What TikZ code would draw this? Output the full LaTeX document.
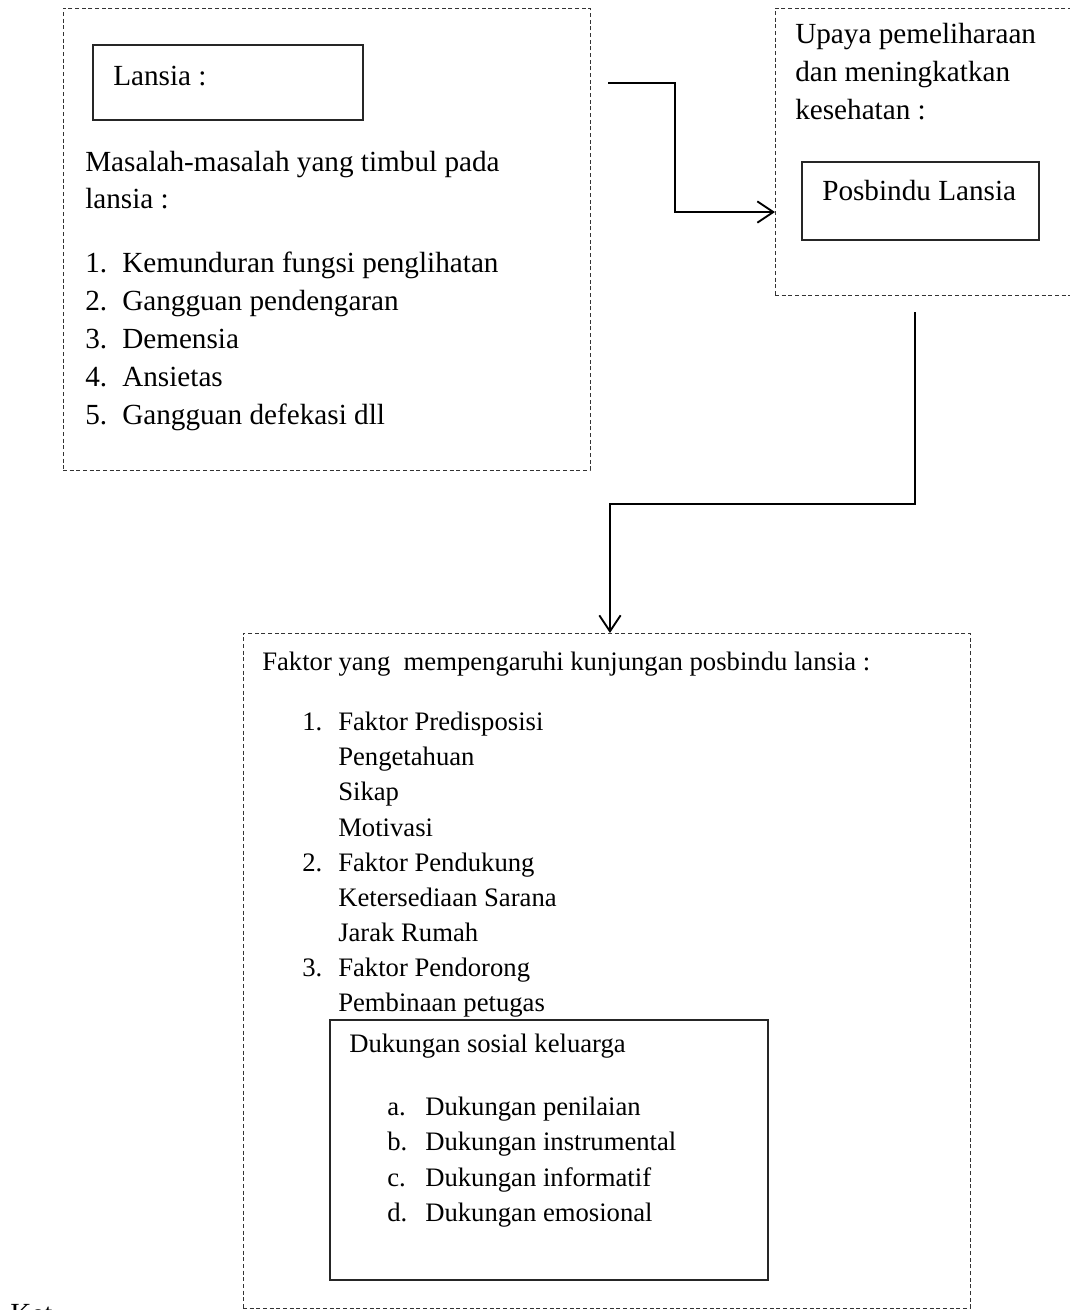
\documentclass[tikz,border=0pt]{standalone}
\usepackage{fontspec}
\setmainfont{Liberation Serif}
\usetikzlibrary{arrows.meta,calc}
\tikzstyle{dashbox}=[rectangle,
	draw=black!80,
	line width=0.6pt,
	dash pattern=on 3pt off 2pt,
	inner sep=0pt,
	outer sep=0pt]
\tikzstyle{solidbox}=[rectangle,
	draw=black!85,
	line width=0.8pt,
	inner sep=0pt,
	outer sep=0pt]
\tikzstyle{bigtxt}=[anchor=base west,
	inner sep=0pt,
	font=\fontsize{21.9}{26}\selectfont]
\tikzstyle{smalltxt}=[anchor=base west,
	inner sep=0pt,
	font=\fontsize{20}{24}\selectfont]
\tikzstyle{flow}=[line width=1.4pt,
	-{Straight Barb[length=12pt,width=16pt,line width=1.4pt]}]

\begin{document}
\begin{tikzpicture}[x=0.75pt,y=-0.75pt]
					\useasboundingbox (0,0) rectangle (1070,1310);
					% left box: lansia
					\node (lansiabox) [dashbox, minimum width=395.25pt, minimum height=346.5pt] at (326.5,239) {};
					\node (lansiahead) [solidbox, minimum width=202.5pt, minimum height=56.25pt] at (228,82.5) {};
					\node (lansiatxt) [bigtxt] at (113,85) {Lansia :};
					\node (masalah1) [bigtxt] at (85,171) {Masalah-masalah yang timbul pada};
					\node (masalah2) [bigtxt] at (85,208) {lansia :};
					\node (m1) [bigtxt] at (85,272) {1.};
					\node (m1txt) [bigtxt] at (122,272) {Kemunduran fungsi penglihatan};
					\node (m2) [bigtxt] at (85,310) {2.};
					\node (m2txt) [bigtxt] at (122,310) {Gangguan pendengaran};
					\node (m3) [bigtxt] at (85,348) {3.};
					\node (m3txt) [bigtxt] at (122,348) {Demensia};
					\node (m4) [bigtxt] at (85,386) {4.};
					\node (m4txt) [bigtxt] at (122,386) {Ansietas};
					\node (m5) [bigtxt] at (85,424) {5.};
					\node (m5txt) [bigtxt] at (122,424) {Gangguan defekasi dll};

					% right box: upaya
					\node (upayabox) [dashbox, minimum width=228.75pt, minimum height=215.25pt] at (927.5,151.5) {};
					\node (upaya1) [bigtxt] at (795,43) {Upaya pemeliharaan};
					\node (upaya2) [bigtxt] at (795,81) {dan meningkatkan};
					\node (upaya3) [bigtxt] at (795,119) {kesehatan :};
					\node (posbindu) [solidbox, minimum width=177.75pt, minimum height=58.5pt] at (920.5,201) {};
					\node (posbindutxt) [bigtxt] at (822,200) {Posbindu Lansia};

					% bottom box: faktor
					\node (faktorbox) [dashbox, minimum width=545.25pt, minimum height=506.25pt] at (606.5,970.5) {};
					\node (faktorhead) [smalltxt] at (262,670) {Faktor yang \ mempengaruhi kunjungan posbindu lansia :};
					\node (f1) [smalltxt] at (302,730) {1.};
					\node (f1txt) [smalltxt] at (338,730) {Faktor Predisposisi};
					\node (f1a) [smalltxt] at (338,765) {Pengetahuan};
					\node (f1b) [smalltxt] at (338,800) {Sikap};
					\node (f1c) [smalltxt] at (338,836) {Motivasi};
					\node (f2) [smalltxt] at (302,871) {2.};
					\node (f2txt) [smalltxt] at (338,871) {Faktor Pendukung};
					\node (f2a) [smalltxt] at (338,906) {Ketersediaan Sarana};
					\node (f2b) [smalltxt] at (338,941) {Jarak Rumah};
					\node (f3) [smalltxt] at (302,976) {3.};
					\node (f3txt) [smalltxt] at (338,976) {Faktor Pendorong};
					\node (f3a) [smalltxt] at (338,1011) {Pembinaan petugas};
					\node (dukungan) [solidbox, minimum width=328.5pt, minimum height=195pt] at (549,1150) {};
					\node (dukhead) [smalltxt] at (349,1052) {Dukungan sosial keluarga};
					\node (da) [smalltxt] at (387,1115) {a.};
					\node (datxt) [smalltxt] at (425,1115) {Dukungan penilaian};
					\node (db) [smalltxt] at (387,1150) {b.};
					\node (dbtxt) [smalltxt] at (425,1150) {Dukungan instrumental};
					\node (dc) [smalltxt] at (387,1186) {c.};
					\node (dctxt) [smalltxt] at (425,1186) {Dukungan informatif};
					\node (dd) [smalltxt] at (387,1221) {d.};
					\node (ddtxt) [smalltxt] at (425,1221) {Dukungan emosional};

					\node (ket) [bigtxt] at (10,1323) {Ket};

					% connectors
					\coordinate (start1) at (608,83);
					\coordinate (start2) at (915,312);
					\draw[flow] (start1) -- ++(67,0) |- ($(upayabox.west)+(0,-45.4pt)$);
					\draw[flow] (start2) -- ++(0,192) -| ($(faktorbox.north)+(2.6pt,0)$);
				\end{tikzpicture}
\end{document}
